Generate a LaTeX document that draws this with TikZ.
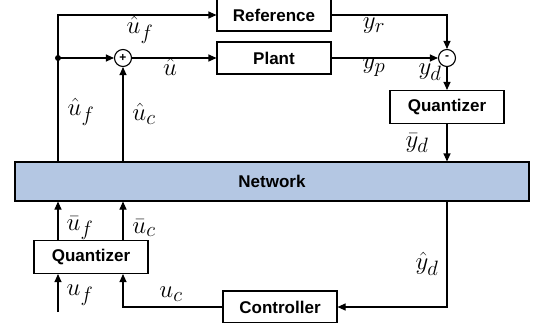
\documentclass[tikz,border=0pt]{standalone}
\usepackage{fontspec}
\setsansfont{Liberation Sans}
\usetikzlibrary{arrows.meta}
\definecolor{netblue}{RGB}{180,199,227}
\tikzset{
  blk/.style={draw, line width=1.1pt, minimum width=114pt, minimum height=32pt, font=\fontsize{17}{20}\selectfont\sffamily\bfseries},
  sig/.style={inner sep=0pt, font=\fontsize{24.88}{30}\selectfont},
  junc/.style={draw, circle, line width=1.1pt, minimum size=17pt, inner sep=0pt, font=\large\sffamily\bfseries}
}
\begin{document}
\begin{tikzpicture}[x=1pt, y=-1pt, >={Triangle[length=8pt,width=7pt]}, line width=1.1pt]
\useasboundingbox (0,0) rectangle (536,322);
% blocks
\node[blk] (ref) at (274,15) {Reference};
\node[blk] (plant) at (274,58) {Plant};
\node[junc] (sum) at (123,58) {+};
\node[junc] (minus) at (447,58) {-};
\node[blk, minimum height=33pt] (qy) at (447,107) {Quantizer};
\node[draw, fill=netblue, line width=1.1pt, minimum width=514pt, minimum height=39pt, font=\fontsize{17}{20}\selectfont\sffamily\bfseries] (net) at (272,181.5) {Network};
\node[blk, minimum height=33pt] (qu) at (91,257) {Quantizer};
\node[blk] (ctrl) at (280,307) {Controller};
\fill (58,58) circle (3pt) coordinate (dot);
\coordinate (uf) at (58,312);
% signals
\draw[->] (dot |- net.north) |- (ref.west);
\draw[->] (dot) -- (sum.west);
\draw[->] (sum.east) -- (plant.west);
\draw[->] (sum |- net.north) -- (sum.south);
\draw[->] (ref.east) -| (minus.north);
\draw[->] (plant.east) -- (minus.west);
\draw[->] (minus.south) -- (qy.north);
\draw[->] (qy.south) -- (qy |- net.north);
\draw[->] (dot |- qu.north) -- (dot |- net.south);
\draw[->] (sum |- qu.north) -- (sum |- net.south);
\draw[->] (uf) -- (uf |- qu.south);
\draw[->] (ctrl.west) -| (sum |- qu.south);
\draw[->] (qy |- net.south) |- (ctrl.east);
% labels
\node[sig] (lufa) at (140,30) {$\hat{u}_f$};
\node[sig] (lu) at (170,67) {$\hat{u}$};
\node[sig] (lyr) at (374,26) {$y_r$};
\node[sig] (lyp) at (374,67) {$y_p$};
\node[sig] (lyd) at (430,72) {$y_d$};
\node[sig] (lbyd) at (417,143) {$\bar{y}_d$};
\node[sig] (lufb) at (81,112) {$\hat{u}_f$};
\node[sig] (luc) at (144,114) {$\hat{u}_c$};
\node[sig] (lbuf) at (80,228) {$\bar{u}_f$};
\node[sig] (lbuc) at (144,228) {$\bar{u}_c$};
\node[sig] (luf) at (80,295) {$u_f$};
\node[sig] (luc2) at (171,294) {$u_c$};
\node[sig] (lhyd) at (427,264) {$\hat{y}_d$};
\end{tikzpicture}
\end{document}
